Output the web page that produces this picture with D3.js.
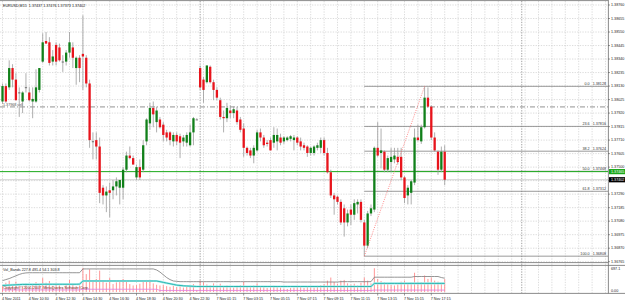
<!DOCTYPE html>
<html>
<head>
<meta charset="utf-8">
<script src="https://cdn.jsdelivr.net/npm/d3@7"></script>
<style>
html, body { margin: 0; padding: 0; background: #fff; }
svg { display: block; font-family: "Liberation Sans", Arial, sans-serif; }
</style>
</head>
<body>
<svg id="chart" width="625" height="303"></svg>
<script>
// EURUSD M15 candles (bar 0 = 4 Nov 08:30)
const open = [
1.3801,1.3813,1.3812,1.3827,1.3818,1.3808,1.3801,1.3812,1.3808,1.3801,
1.3801,1.3810,1.3832,1.3848,1.3847,1.3832,1.3845,1.3843,1.3832,1.3832,
1.3839,1.3843,1.3827,1.3835,1.3838,1.3835,1.3815,1.3770,1.3771,1.3766,
1.3734,1.3728,1.3732,1.3732,1.3735,1.3734,1.3734,1.3748,1.3759,1.3757,
1.3742,1.3750,1.3748,1.3770,1.3784,1.3796,1.3785,1.3787,1.3783,1.3777,
1.3777,1.3770,1.3775,1.3774,1.3770,1.3769,1.3767,1.3777,1.3787,1.3827,
1.3818,1.3816,1.3828,1.3816,1.3810,1.3802,1.3789,1.3788,1.3794,1.3792,
1.3794,1.3787,1.3780,1.3765,1.3763,1.3759,1.3763,1.3777,1.3773,1.3769,
1.3771,1.3769,1.3770,1.3773,1.3770,1.3771,1.3772,1.3771,1.3773,1.3770,
1.3767,1.3766,1.3761,1.3761,1.3765,1.3765,1.3771,1.3761,1.3746,1.3728,
1.3727,1.3723,1.3718,1.3707,1.3717,1.3713,1.3721,1.3723,1.3707,1.3689,
1.3714,1.3717,1.3765,1.3761,1.3762,1.3748,1.3754,1.3756,1.3758,1.3758,
1.3742,1.3728,1.3730,1.3738,1.3773,1.3770,1.3781,1.3804,1.3797,1.3773,
1.3762,1.3748,1.3762];
const high = [
1.3815,1.3815,1.3833,1.3830,1.3823,1.3812,1.3809,1.3823,1.3812,1.3812,
1.3826,1.3827,1.3854,1.3855,1.3851,1.3841,1.3847,1.3846,1.3837,1.3841,
1.3855,1.3847,1.3836,1.3837,1.3868,1.3837,1.3818,1.3777,1.3777,1.3773,
1.3736,1.3735,1.3738,1.3740,1.3742,1.3740,1.3750,1.3762,1.3766,1.3759,
1.3752,1.3756,1.3771,1.3788,1.3800,1.3801,1.3797,1.3789,1.3785,1.3779,
1.3778,1.3777,1.3777,1.3776,1.3775,1.3777,1.3783,1.3789,1.3788,1.3829,
1.3820,1.3829,1.3829,1.3818,1.3812,1.3804,1.3794,1.3800,1.3798,1.3797,
1.3797,1.3789,1.3784,1.3766,1.3765,1.3767,1.3779,1.3780,1.3775,1.3771,
1.3773,1.3781,1.3780,1.3776,1.3774,1.3774,1.3775,1.3775,1.3774,1.3773,
1.3769,1.3767,1.3766,1.3767,1.3769,1.3773,1.3773,1.3765,1.3748,1.3730,
1.3728,1.3725,1.3721,1.3717,1.3721,1.3725,1.3725,1.3725,1.3709,1.3716,
1.3721,1.3766,1.3785,1.3780,1.3763,1.3759,1.3765,1.3765,1.3765,1.3765,
1.3743,1.3736,1.3740,1.3780,1.3783,1.3783,1.38128,1.3812,1.3798,1.3777,
1.3763,1.3766,1.3767];
const low = [
1.3799,1.3800,1.3810,1.3812,1.3802,1.3789,1.3792,1.3808,1.3801,1.3788,
1.3800,1.3808,1.3831,1.3846,1.3829,1.3829,1.3829,1.3832,1.3824,1.3829,
1.3835,1.3827,1.3814,1.3816,1.3810,1.3812,1.3765,1.3756,1.3756,1.3722,
1.3721,1.3715,1.3711,1.3725,1.3728,1.3721,1.3725,1.3746,1.3756,1.3752,
1.3740,1.3740,1.3746,1.3767,1.3779,1.3781,1.3777,1.3780,1.3770,1.3770,
1.3767,1.3766,1.3767,1.3757,1.3766,1.3766,1.3766,1.3767,1.3787,1.3810,
1.3800,1.3815,1.3815,1.3802,1.3802,1.3787,1.3777,1.3785,1.3788,1.3788,
1.3783,1.3777,1.3758,1.3759,1.3757,1.3753,1.3762,1.3770,1.3765,1.3766,
1.3763,1.3765,1.3763,1.3767,1.3768,1.3770,1.3770,1.3763,1.3767,1.3763,
1.3763,1.3758,1.3759,1.3759,1.3763,1.3761,1.3759,1.3745,1.3726,1.3713,
1.3721,1.3705,1.3696,1.3704,1.3705,1.3709,1.3714,1.3707,1.36808,1.3687,
1.3712,1.3715,1.3758,1.3749,1.3746,1.3746,1.3746,1.3753,1.3752,1.3740,
1.3722,1.3721,1.3721,1.3736,1.3770,1.3768,1.3780,1.3796,1.3771,1.3762,
1.3744,1.3746,1.3736];
const close = [
1.3813,1.3801,1.3827,1.3818,1.3802,1.3808,1.3808,1.3812,1.3802,1.3803,
1.3812,1.3827,1.3847,1.3846,1.3831,1.3836,1.3832,1.3833,1.3832,1.3839,
1.3847,1.3835,1.3835,1.3827,1.3836,1.3815,1.3771,1.3770,1.3766,1.3730,
1.3728,1.3731,1.3730,1.3735,1.3739,1.3740,1.3748,1.3759,1.3757,1.3752,
1.3750,1.3742,1.3767,1.3787,1.3796,1.3791,1.3794,1.3781,1.3775,1.3773,
1.3771,1.3775,1.3770,1.3769,1.3773,1.3775,1.3777,1.3788,1.3787,1.3812,
1.3810,1.3829,1.3816,1.3810,1.3804,1.3789,1.3788,1.3796,1.3792,1.3795,
1.3785,1.3779,1.3765,1.3761,1.3759,1.3765,1.3777,1.3773,1.3767,1.3768,
1.3763,1.3775,1.3775,1.3769,1.3773,1.3773,1.3774,1.3773,1.3769,1.3766,
1.3765,1.3761,1.3765,1.3766,1.3767,1.3771,1.3761,1.3746,1.3728,1.3725,
1.3723,1.3707,1.3707,1.3714,1.3713,1.3722,1.3723,1.3709,1.3689,1.3714,
1.3718,1.3765,1.3759,1.3763,1.3748,1.3757,1.3758,1.3759,1.3754,1.3742,
1.3726,1.3734,1.3739,1.3773,1.3771,1.3781,1.3804,1.3797,1.3773,1.3763,
1.3748,1.3762,1.37402];

// quote shown in the chart header (open, high, low, close of the current bar)
const headerQuote = [1.37437, 1.37476, 1.37373, 1.37402];

// Vol_Bands sub-window
const volume = [
190,270,330,230,300,200,170,250,150,220,
290,240,410,270,320,180,240,190,140,200,
350,220,170,190,697,520,660,300,380,620,
330,270,410,230,280,320,380,330,230,190,
200,240,320,350,300,250,210,190,200,170,
150,180,140,170,130,150,190,230,60,330,
280,220,190,250,180,240,170,190,140,130,
180,200,290,150,180,190,250,170,140,120,
150,180,140,130,100,90,120,130,140,170,
120,150,140,130,180,200,230,330,420,290,
240,330,350,250,220,240,190,270,420,330,
250,690,380,320,290,230,200,190,220,300,
330,250,280,560,300,290,480,380,420,330,
300,270,370];
const bandUpper = [
330,360,390,430,470,510,540,555,560,560,
560,560,560,560,560,560,560,560,560,560,
560,560,560,560,670,670,670,670,670,670,
670,670,670,670,670,670,670,670,670,670,
670,670,670,670,670,670,640,580,500,420,
360,320,310,300,300,300,300,300,300,300,
300,300,300,300,300,300,300,300,300,300,
300,300,300,300,300,300,300,300,300,300,
300,300,300,300,290,290,290,290,290,290,
290,290,290,290,290,290,290,290,290,290,
290,300,300,300,300,300,300,300,300,300,
300,430,430,430,430,430,430,430,430,430,
430,430,430,450,450,450,450,450,450,450,
450,420,400];
const bandMiddle = [
190,195,200,205,210,215,220,220,220,220,
220,220,225,225,225,225,225,225,225,225,
225,225,225,230,320,320,320,320,320,320,
320,320,320,320,320,320,320,320,320,320,
320,320,320,320,320,320,320,300,280,260,
240,220,200,190,180,175,170,165,160,160,
160,160,160,160,160,160,160,160,160,160,
160,160,160,160,160,160,160,160,160,160,
160,160,160,160,160,160,160,160,160,160,
160,160,160,160,160,160,160,160,160,160,
160,160,160,160,160,160,160,160,160,160,
160,250,250,250,250,250,250,250,250,250,
250,250,250,250,250,250,250,250,250,250,
250,250,250];
const bandLower = [
60,60,60,60,60,60,60,60,60,60,
60,60,60,60,60,60,60,60,60,60,
60,60,60,60,80,80,80,80,80,80,
80,80,80,80,80,80,80,80,80,80,
80,80,80,80,80,80,80,45,45,45,
45,45,45,45,45,45,45,45,45,45,
45,45,45,45,45,45,45,45,45,45,
45,45,45,45,45,45,45,45,45,45,
45,45,45,45,45,45,45,45,45,45,
45,45,45,45,45,45,45,45,45,45,
45,45,45,45,45,45,45,45,45,45,
45,55,55,55,55,55,55,55,55,55,
55,55,55,55,55,55,55,55,55,55,
55,55,55];

// axis labels
const priceTicks = [1.38760,1.38655,1.38550,1.38445,1.38340,1.38235,1.38130,1.38025,1.37920,1.37815,
  1.37710,1.37605,1.37500,1.37395,1.37290,1.37185,1.37080,1.36975,1.36870,1.36765];
const timeIdx = [0,8,16,24,32,40,48,56,64,72,80,88,96,104,112,120,128];
const timeLabels = ["4 Nov 2011","4 Nov 10:30","4 Nov 12:30","4 Nov 14:30","4 Nov 16:30","4 Nov 18:30",
  "4 Nov 20:30","4 Nov 22:30","7 Nov 01:15","7 Nov 03:15","7 Nov 05:15","7 Nov 07:15","7 Nov 09:15",
  "7 Nov 11:15","7 Nov 13:15","7 Nov 15:15","7 Nov 17:15"];
const daySeparators = [59, 155];

// objects on the chart
const fibLevels = [0, 23.6, 38.2, 50, 61.8, 100];
const fibFrom = 108, fibTo = 126;      // bar of the low, bar of the high
const greenLevel = 1.37465;
const dashLevel = 1.37968;
const bid = 1.37402;

const right = 608, fs = 3.7;
const svg = d3.select("#chart");
const x = d3.scaleLinear().domain([0, 1]).range([2.5, 5.85]);
const y = d3.scaleLinear().domain([1.36765, 1.38760]).range([261.7, 5]);
const yv = d3.scaleLinear().domain([0, 697.1]).range([292, 268]);

svg.append("rect").attr("width", 625).attr("height", 303).attr("fill", "#fff");

// grid
const gridIdx = d3.range(0, 181, 4).filter(i => x(i) < right);
svg.append("g").selectAll("line").data(gridIdx).join("line")
  .attr("x1", d => x(d)).attr("x2", d => x(d)).attr("y1", 1).attr("y2", 293)
  .attr("stroke", "#c4c4c4").attr("stroke-width", 0.6).attr("stroke-dasharray", "1.3,1.3");
svg.append("g").selectAll("line").data(priceTicks).join("line")
  .attr("x1", 0).attr("x2", right).attr("y1", d => y(d)).attr("y2", d => y(d))
  .attr("stroke", "#c4c4c4").attr("stroke-width", 0.6).attr("stroke-dasharray", "1.3,1.3");
svg.append("g").selectAll("line").data(daySeparators).join("line")
  .attr("x1", d => x(d)).attr("x2", d => x(d)).attr("y1", 1).attr("y2", 293)
  .attr("stroke", "#777").attr("stroke-width", 0.7).attr("stroke-dasharray", "1.3,1.3");

// horizontal objects
svg.append("line").attr("x1", 0).attr("x2", right).attr("y1", y(bid)).attr("y2", y(bid))
  .attr("stroke", "#bbb").attr("stroke-width", 0.7);
svg.append("line").attr("x1", 0).attr("x2", right).attr("y1", y(dashLevel)).attr("y2", y(dashLevel))
  .attr("stroke", "#777").attr("stroke-width", 0.8).attr("stroke-dasharray", "5,2,1,2");
svg.append("text").attr("x", 3).attr("y", y(dashLevel) - 1.2).attr("font-size", fs)
  .attr("fill", "#555").text("1.37968 sell");

// fibonacci
const fHigh = high[fibTo], fLow = low[fibFrom];
const fib = fibLevels.map(l => ({l, p: fHigh - l / 100 * (fHigh - fLow)}));
const fg = svg.append("g");
fg.selectAll("line").data(fib).join("line")
  .attr("x1", x(fibFrom)).attr("x2", right).attr("y1", d => y(d.p)).attr("y2", d => y(d.p))
  .attr("stroke", "#808080").attr("stroke-width", 0.8);
fg.selectAll("text").data(fib).join("text")
  .attr("x", right - 2).attr("y", d => y(d.p) - 1.2).attr("text-anchor", "end")
  .attr("font-size", fs).attr("fill", "#333")
  .text(d => `${d.l.toFixed(1)}   ${d.p.toFixed(5)}`).attr("xml:space", "preserve");

svg.append("line").attr("x1", 0).attr("x2", right).attr("y1", y(greenLevel)).attr("y2", y(greenLevel))
  .attr("stroke", "#1aa81a").attr("stroke-width", 1);

// candles
const bars = svg.append("g").selectAll("g").data(open.map((o, i) => i)).join("g");
bars.append("line")
  .attr("x1", i => x(i)).attr("x2", i => x(i)).attr("y1", i => y(high[i])).attr("y2", i => y(low[i]))
  .attr("stroke", "#9a9a9a").attr("stroke-width", 0.8);
bars.append("rect")
  .attr("x", i => x(i) - 1.15).attr("width", 2.3)
  .attr("y", i => y(Math.max(open[i], close[i])))
  .attr("height", i => Math.max(0.8, Math.abs(y(open[i]) - y(close[i]))))
  .attr("fill", i => close[i] > open[i] ? "#11801a" : close[i] < open[i] ? "#e8141c" : "#555");

// trend line low -> high
svg.append("line").attr("x1", x(fibFrom)).attr("y1", y(fLow)).attr("x2", x(fibTo)).attr("y2", y(fHigh))
  .attr("stroke", "#ff6f6f").attr("stroke-width", 0.8).attr("stroke-dasharray", "1,1.3");

// frame
const frame = svg.append("g").attr("stroke", "#6e6e6e").attr("stroke-width", 0.8);
frame.append("line").attr("x1", 0).attr("x2", right).attr("y1", 0.6).attr("y2", 0.6);
frame.append("line").attr("x1", 0).attr("x2", right).attr("y1", 262.6).attr("y2", 262.6);
frame.append("line").attr("x1", 0).attr("x2", 625).attr("y1", 265.4).attr("y2", 265.4);
frame.append("line").attr("x1", 0).attr("x2", 625).attr("y1", 293.4).attr("y2", 293.4);
frame.append("line").attr("x1", right + 0.4).attr("x2", right + 0.4).attr("y1", 0).attr("y2", 293.4);

// price axis
const pa = svg.append("g");
pa.selectAll("line").data(priceTicks).join("line")
  .attr("x1", right).attr("x2", right + 2).attr("y1", d => y(d)).attr("y2", d => y(d))
  .attr("stroke", "#555").attr("stroke-width", 0.6);
pa.selectAll("text").data(priceTicks).join("text")
  .attr("x", right + 3).attr("y", d => y(d) + 1.3).attr("font-size", fs).attr("fill", "#222")
  .text(d => d.toFixed(5));
[[greenLevel, "#1aa81a", "#fff"], [bid, "#000", "#fff"]].forEach(([p, bg, fgc]) => {
  svg.append("rect").attr("x", right + 1).attr("y", y(p) - 2.6).attr("width", 625 - right - 1).attr("height", 5.2).attr("fill", bg);
  svg.append("text").attr("x", right + 3).attr("y", y(p) + 1.3).attr("font-size", fs).attr("fill", fgc).text(p.toFixed(5));
});

// title
svg.append("text").attr("x", 3).attr("y", 7).attr("font-size", fs).attr("fill", "#111")
  .attr("xml:space", "preserve")
  .text("EURUSD,M15  " + headerQuote.map(v => v.toFixed(5)).join(" "));

// Vol_Bands window
const vg = svg.append("g");
vg.selectAll("line").data(volume).join("line")
  .attr("x1", (d, i) => x(i)).attr("x2", (d, i) => x(i)).attr("y1", yv(0)).attr("y2", d => yv(d))
  .attr("stroke", "#ff8a8a").attr("stroke-width", 0.9);
const ln = d3.line().x((d, i) => x(i)).y(d => yv(d));
vg.append("path").attr("d", ln(bandMiddle)).attr("fill", "none").attr("stroke", "#a8eeee").attr("stroke-width", 2.2);
vg.append("path").attr("d", ln(bandMiddle)).attr("fill", "none").attr("stroke", "#1aaea6").attr("stroke-width", 0.9);
vg.append("path").attr("d", ln(bandUpper)).attr("fill", "none").attr("stroke", "#7a7a7a").attr("stroke-width", 0.8);
vg.append("path").attr("d", ln(bandLower)).attr("fill", "none").attr("stroke", "#e27ae2").attr("stroke-width", 0.8);
svg.append("text").attr("x", 3).attr("y", 271).attr("font-size", fs).attr("fill", "#222").text("Vol_Bands 227.8 491.4 54.1 303.8");
svg.append("text").attr("x", 3).attr("y", 289).attr("font-size", fs).attr("fill", "#6a2a2a").text("Copyright © 2001-2007, MetaQuotes Software Corp.");
svg.append("text").attr("x", right + 3).attr("y", 269.5).attr("font-size", fs).attr("fill", "#222").text("697.1");
svg.append("text").attr("x", right + 3).attr("y", 292).attr("font-size", fs).attr("fill", "#222").text("0.00");

// time axis
const ta = svg.append("g");
ta.selectAll("line").data(timeIdx).join("line")
  .attr("x1", d => x(d)).attr("x2", d => x(d)).attr("y1", 293.4).attr("y2", 295.5)
  .attr("stroke", "#555").attr("stroke-width", 0.6);
ta.selectAll("text").data(timeIdx).join("text")
  .attr("x", d => x(d) - 0.5).attr("y", 299.5).attr("font-size", fs).attr("fill", "#222")
  .text((d, i) => timeLabels[i]);
</script>
</body>
</html>
